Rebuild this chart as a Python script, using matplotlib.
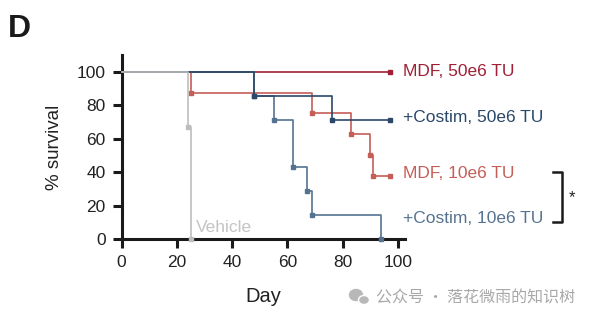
import matplotlib.pyplot as plt
from matplotlib.lines import Line2D
from matplotlib.patches import Ellipse

# Kaplan-Meier style survival data (day, % survival)
vehicle_t = [0, 24, 25]
vehicle_s = [100, 66.7, 0]
mdf50_t = [0, 97]
mdf50_s = [100, 100]
mdf10_t = [0, 25, 69, 83, 90, 91, 97]
mdf10_s = [100, 87.5, 75, 62.5, 50, 37.5, 37.5]
cos50_t = [0, 48, 76, 97]
cos50_s = [100, 85.7, 71.4, 71.4]
cos10_t = [0, 48, 55, 62, 67, 69, 94]
cos10_s = [100, 85.7, 71.4, 42.9, 28.6, 14.3, 0]

labels = ['MDF, 50e6 TU', '+Costim, 50e6 TU', 'MDF, 10e6 TU', '+Costim, 10e6 TU']
label_y = [100, 72.5, 39, 12.5]
xticks = [0, 20, 40, 60, 80, 100]
yticks = [0, 20, 40, 60, 80, 100]

c_mdf50 = '#a01f35'
c_mdf10 = '#c65e58'
c_cos50 = '#2b4868'
c_cos10 = '#557391'
c_veh = '#bdbdbd'

plt.rcParams['font.family'] = ['Liberation Sans', 'DejaVu Sans']

fig = plt.figure(figsize=(5.95, 3.23), dpi=100)
ax = fig.add_axes([0.2045, 0.26, 0.476, 0.57])

series = [
    (mdf50_t, mdf50_s, c_mdf50, 2),
    (mdf10_t, mdf10_s, c_mdf10, 3),
    (cos10_t, cos10_s, c_cos10, 4),
    (cos50_t, cos50_s, c_cos50, 5),
    (vehicle_t, vehicle_s, c_veh, 6),
]
for t, s, c, z in series:
    ax.step(t, s, where='post', color=c, lw=1.2, zorder=z, clip_on=False)
    ax.plot(t[1:], s[1:], ls='none', marker='s', ms=2.3, color=c, zorder=z, clip_on=False)

for lab, yy, c in zip(labels, label_y, [c_mdf50, c_cos50, c_mdf10, c_cos10]):
    ax.text(101.8, yy, lab, color=c, fontsize=12.5, va='center', ha='left', clip_on=False)

ax.text(27, 7, 'Vehicle', color='#c4c4c4', fontsize=12.5, va='center', ha='left')

ax.set_xlim(0, 102.5)
ax.set_ylim(0, 110)
ax.set_xticks(xticks)
ax.set_yticks(yticks)
ax.spines['top'].set_visible(False)
ax.spines['right'].set_visible(False)
for sp in ['left', 'bottom']:
    ax.spines[sp].set_linewidth(2.2)
    ax.spines[sp].set_color('#1a1a1a')
ax.tick_params(length=6.5, width=2.2, color='#1a1a1a', labelsize=12.5,
               labelcolor='#222222', pad=5)
ax.set_xlabel('Day', fontsize=14.5, color='#222222', labelpad=12)
ax.set_ylabel('% survival', fontsize=13.5, color='#222222', labelpad=10)

# significance bracket
W, H = 595, 323
def fx(px):
    return px / W
def fy(py):
    return 1 - py / H
fig.add_artist(Line2D([fx(553), fx(562), fx(562), fx(553)],
                      [fy(172.5), fy(172.5), fy(222), fy(222)],
                      color='#1a1a1a', lw=1.8))
fig.text(fx(572), fy(198), '*', fontsize=12, ha='center', va='center', color='#222222')

# panel letter
fig.text(fx(8), fy(29), 'D', fontsize=23, fontweight='bold', va='center', ha='left',
         color='#1a1a1a')

# watermark
fig.add_artist(Ellipse((fx(356), fy(295)), 13 / W, 11 / H, color='#b8b8b8'))
fig.add_artist(Ellipse((fx(364), fy(300)), 11 / W, 9 / H, color='#b8b8b8', ec='white', lw=1))
fig.text(fx(376), fy(298), '公众号 · 落花微雨的知识树', fontsize=11.5, color='#a8a8a8',
         va='center', ha='left', family=['Noto Sans CJK SC', 'DejaVu Sans'])

fig.savefig('out.png', dpi=100)
